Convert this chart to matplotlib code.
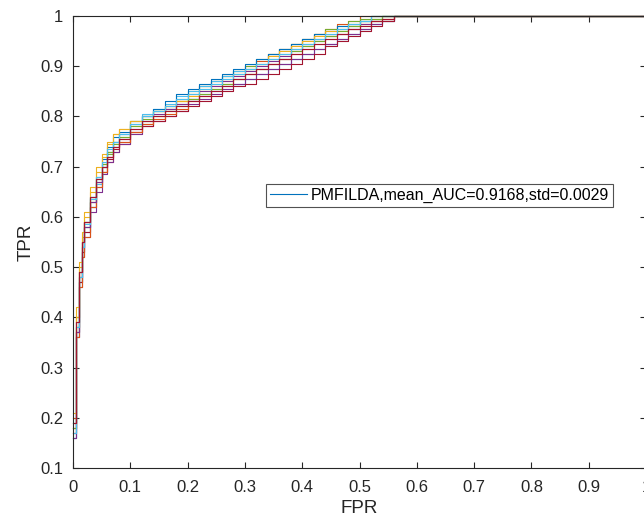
import numpy as np
import matplotlib
matplotlib.use("Agg")
import matplotlib.pyplot as plt

plt.rcParams['font.family'] = ['Liberation Sans', 'DejaVu Sans']

# shared FPR grid, TPR per fold
fpr_grid = [0, 0.005, 0.01, 0.015, 0.02, 0.03, 0.04, 0.05, 0.06, 0.07, 0.08, 0.10,
            0.12, 0.14, 0.16, 0.18, 0.20, 0.22, 0.24, 0.26, 0.28, 0.30, 0.32, 0.34,
            0.36, 0.38, 0.40, 0.42, 0.44, 0.46, 0.48, 0.50, 0.52, 0.54, 0.56, 1.0]

tpr_runs = [
    [.16, .36, .47, .53, .58, .64, .68, .715, .74, .76, .77, .79, .80, .81, .815, .825, .835, .845,
     .85, .86, .865, .875, .885, .895, .905, .915, .925, .935, .945, .955, .965, .975, .985, .99, 1, 1],
    [.20, .40, .49, .55, .59, .63, .665, .69, .71, .73, .745, .77, .785, .80, .815, .83, .845, .86,
     .87, .88, .89, .90, .91, .925, .935, .945, .955, .965, .975, .985, .99, 1, 1, 1, 1, 1],
    [.19, .40, .50, .56, .60, .65, .69, .72, .745, .765, .775, .79, .80, .81, .82, .83, .845, .855,
     .865, .875, .885, .895, .905, .915, .925, .935, .945, .955, .96, .97, .98, .985, .99, .995, 1, 1],
    [.17, .36, .46, .52, .56, .61, .65, .685, .71, .73, .745, .765, .78, .79, .80, .81, .825, .835,
     .845, .855, .865, .875, .885, .895, .905, .915, .925, .935, .945, .955, .965, .975, .985, .99, 1, 1],
    [.18, .38, .48, .54, .58, .63, .67, .70, .725, .745, .76, .78, .795, .81, .82, .835, .85, .86,
     .87, .88, .89, .90, .915, .925, .935, .945, .955, .965, .975, .98, .99, .995, 1, 1, 1, 1],
    [.16, .37, .47, .53, .57, .62, .665, .70, .73, .75, .765, .79, .805, .815, .825, .84, .85, .86,
     .87, .88, .89, .895, .905, .915, .925, .935, .945, .955, .965, .975, .98, .99, .995, 1, 1, 1],
    [.18, .37, .47, .53, .57, .62, .66, .69, .715, .735, .75, .77, .78, .79, .80, .81, .82, .83,
     .84, .85, .86, .865, .875, .885, .895, .905, .915, .925, .94, .95, .96, .97, .98, .99, 1, 1],
    [.19, .39, .49, .55, .59, .64, .675, .705, .73, .75, .765, .785, .80, .815, .83, .845, .855, .865,
     .875, .885, .895, .905, .915, .925, .935, .945, .955, .965, .97, .98, .985, .99, 1, 1, 1, 1],
    [.17, .36, .46, .52, .56, .62, .66, .69, .72, .74, .75, .77, .785, .795, .805, .815, .83, .84,
     .855, .865, .875, .885, .895, .905, .915, .925, .935, .945, .955, .965, .975, .985, .99, .995, 1, 1],
    [.21, .42, .51, .57, .61, .66, .70, .725, .75, .765, .775, .79, .80, .81, .82, .83, .84, .85,
     .86, .87, .885, .895, .905, .92, .93, .94, .95, .96, .97, .975, .985, .99, .995, 1, 1, 1],
    [.16, .37, .48, .54, .58, .63, .67, .70, .72, .74, .755, .775, .79, .805, .815, .825, .835, .85,
     .86, .87, .88, .89, .90, .91, .92, .93, .94, .95, .96, .965, .975, .985, .99, 1, 1, 1],
    [.18, .38, .49, .55, .59, .635, .675, .705, .73, .75, .76, .78, .79, .80, .81, .82, .835, .845,
     .855, .865, .875, .885, .895, .905, .915, .93, .94, .95, .96, .97, .98, .99, .995, 1, 1, 1],
    [.17, .38, .48, .54, .585, .635, .68, .71, .735, .75, .765, .785, .80, .81, .82, .835, .845, .855,
     .865, .875, .885, .895, .905, .915, .925, .935, .945, .955, .965, .975, .985, .99, 1, 1, 1, 1],
    [.19, .39, .49, .55, .59, .64, .675, .70, .72, .74, .755, .775, .79, .80, .81, .82, .83, .84,
     .85, .86, .875, .885, .895, .905, .915, .925, .935, .945, .955, .965, .975, .98, .99, .995, 1, 1],
]

legend_label = 'PMFILDA,mean_AUC=0.9168,std=0.0029'
x_ticks = [0, 0.1, 0.2, 0.3, 0.4, 0.5, 0.6, 0.7, 0.8, 0.9, 1]
x_ticklabels = ['0', '0.1', '0.2', '0.3', '0.4', '0.5', '0.6', '0.7', '0.8', '0.9', '1']
y_ticks = [0.1, 0.2, 0.3, 0.4, 0.5, 0.6, 0.7, 0.8, 0.9, 1]
y_ticklabels = ['0.1', '0.2', '0.3', '0.4', '0.5', '0.6', '0.7', '0.8', '0.9', '1']

# MATLAB default line colours
colors = ['#0072BD', '#D95319', '#EDB120', '#7E2F8E', '#77AC30', '#4DBEEE', '#A2142F']
ink = '#262626'

fig = plt.figure(figsize=(6.44, 5.24), dpi=100)
ax = fig.add_axes([73 / 644, 56 / 524, 573 / 644, 452 / 524])

for i, tpr in enumerate(tpr_runs):
    ax.step(fpr_grid, tpr, where='post', color=colors[i % len(colors)], lw=0.8,
            clip_on=False, label=legend_label if i == 0 else None)

ax.set_xlim(0, 1)
ax.set_ylim(0.1, 1)
ax.set_xticks(x_ticks)
ax.set_xticklabels(x_ticklabels)
ax.set_yticks(y_ticks)
ax.set_yticklabels(y_ticklabels)
ax.tick_params(direction='in', length=4, width=0.8, top=True, right=True,
               labelsize=12, colors=ink)
ax.tick_params(axis='x', pad=9)
ax.tick_params(axis='y', pad=7)
for s in ax.spines.values():
    s.set_color(ink)
    s.set_linewidth(0.8)

ax.set_xlabel('FPR', fontsize=13.5, color=ink, labelpad=3)
ax.set_ylabel('TPR', fontsize=13.5, color=ink, labelpad=4)

leg = ax.legend(loc='center left', bbox_to_anchor=(0.337, 0.603), fontsize=11.5,
                frameon=True, fancybox=False, handlelength=2.3, borderpad=0.25,
                handletextpad=0.25, borderaxespad=0)
leg.get_frame().set_edgecolor(ink)
leg.get_frame().set_linewidth(0.8)

fig.savefig('out.png', dpi=100)
